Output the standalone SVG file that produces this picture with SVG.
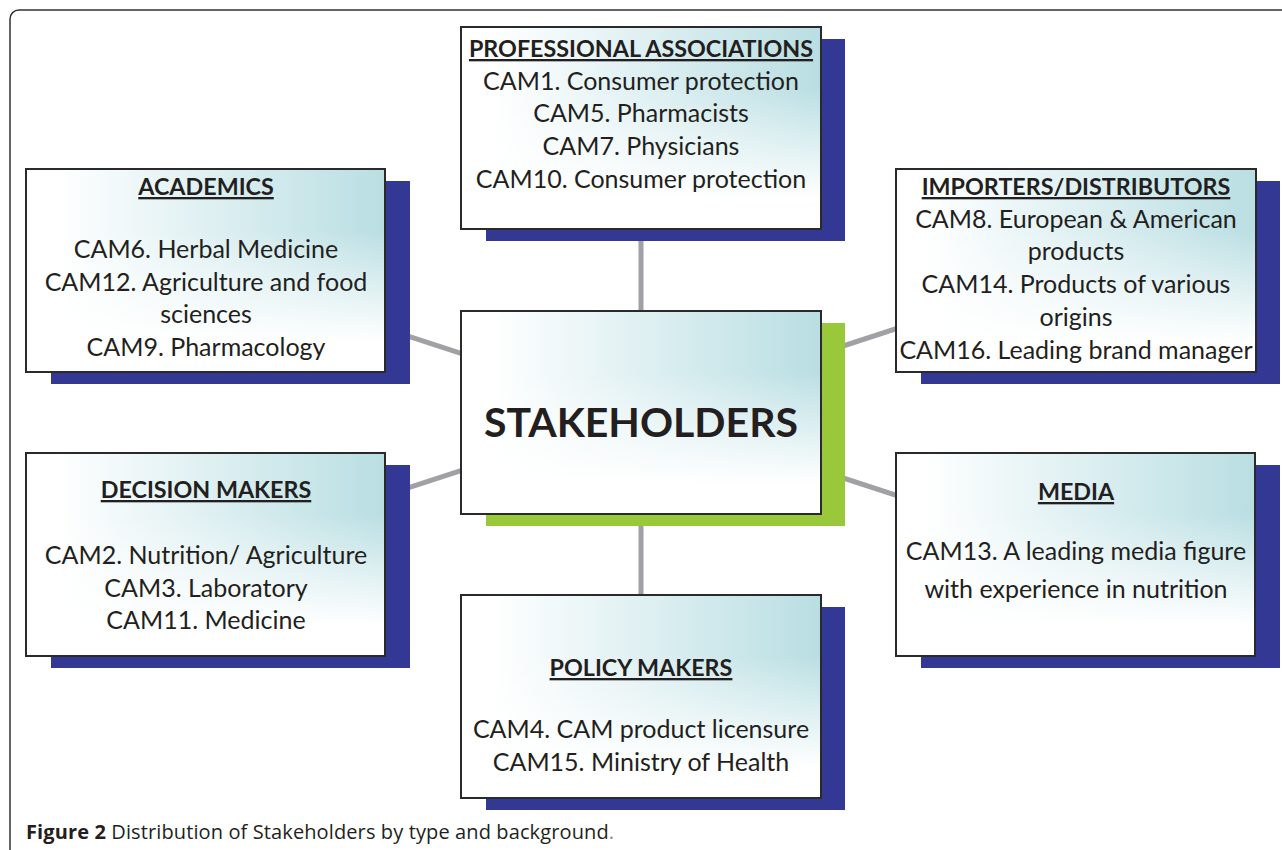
<svg xmlns="http://www.w3.org/2000/svg" width="1282" height="850" viewBox="0 0 1282 850">
<defs>
<linearGradient id="gh" x1="0" y1="0" x2="1" y2="0">
<stop offset="0.08" stop-color="#ffffff"/>
<stop offset="0.45" stop-color="#e3f2f4"/>
<stop offset="1" stop-color="#b9dee2"/>
</linearGradient>
<linearGradient id="gv" x1="0" y1="0" x2="0" y2="1">
<stop offset="0.3" stop-color="#ffffff" stop-opacity="0"/>
<stop offset="0.85" stop-color="#ffffff" stop-opacity="1"/>
</linearGradient>
<style>
.sh{fill:#333894}
.shg{fill:#99c93b}
.bg{fill:url(#gh)}
.ov{fill:url(#gv)}
.bd{fill:none;stroke:#2a2a2a;stroke-width:2}
.t{font-family:Lato,"Liberation Sans",sans-serif;font-size:25px;fill:#231f20;text-anchor:middle}
.h{font-weight:bold;text-decoration:underline;font-size:23.3px}
.big{font-family:Lato,"Liberation Sans",sans-serif;font-size:41px;font-weight:bold;fill:#231f20;text-anchor:middle}
.cn{stroke:#a0a0a5;stroke-width:5;fill:none}
.cap{font-family:"Open Sans","Liberation Sans",sans-serif;font-size:20px;fill:#231f20}
</style>
</defs>
<rect x="0" y="0" width="1282" height="850" fill="#ffffff"/>
<rect id="frame" x="10" y="10" width="1300" height="900" rx="9" fill="none" stroke="#333" stroke-width="1.5"/>
<g id="connectors">
<line class="cn" x1="641" y1="412" x2="641" y2="128"/>
<line class="cn" x1="641" y1="412" x2="641" y2="696"/>
<line class="cn" x1="641" y1="412" x2="205" y2="270"/>
<line class="cn" x1="641" y1="412" x2="205" y2="554"/>
<line class="cn" x1="641" y1="412" x2="1076" y2="270"/>
<line class="cn" x1="641" y1="412" x2="1076" y2="554"/>
</g>
<g id="professional">
<rect class="sh" x="486" y="39" width="359" height="202"/>
<rect class="bg" x="461" y="27" width="360" height="202"/>
<rect class="ov" x="461" y="27" width="360" height="202"/>
<rect class="bd" x="461" y="27" width="360" height="202"/>
<text class="t h" x="641" y="57">PROFESSIONAL ASSOCIATIONS</text>
<text class="t" x="641" y="90">CAM1. Consumer protection</text>
<text class="t" x="641" y="122">CAM5. Pharmacists</text>
<text class="t" x="641" y="155">CAM7. Physicians</text>
<text class="t" x="641" y="188">CAM10. Consumer protection</text>
</g>
<g id="academics">
<rect class="sh" x="51" y="181" width="359" height="203"/>
<rect class="bg" x="26" y="169" width="359" height="203"/>
<rect class="ov" x="26" y="169" width="359" height="203"/>
<rect class="bd" x="26" y="169" width="359" height="203"/>
<text class="t h" x="206" y="195">ACADEMICS</text>
<text class="t" x="206" y="258">CAM6.  Herbal Medicine</text>
<text class="t" x="206" y="291">CAM12. Agriculture and food</text>
<text class="t" x="206" y="323">sciences</text>
<text class="t" x="206" y="356">CAM9. Pharmacology</text>
</g>
<g id="importers">
<rect class="sh" x="921" y="181" width="359" height="203"/>
<rect class="bg" x="896" y="169" width="360" height="203"/>
<rect class="ov" x="896" y="169" width="360" height="203"/>
<rect class="bd" x="896" y="169" width="360" height="203"/>
<text class="t h" x="1076" y="195">IMPORTERS/DISTRIBUTORS</text>
<text class="t" x="1076" y="228">CAM8. European &amp; American</text>
<text class="t" x="1076" y="260">products</text>
<text class="t" x="1076" y="293">CAM14. Products of various</text>
<text class="t" x="1076" y="326">origins</text>
<text class="t" x="1076" y="359">CAM16. Leading brand manager</text>
</g>
<g id="stakeholders">
<rect class="shg" x="486" y="323" width="359" height="203"/>
<rect class="bg" x="461" y="311" width="360" height="203"/>
<rect class="ov" x="461" y="311" width="360" height="203"/>
<rect class="bd" x="461" y="311" width="360" height="203"/>
<text class="big" x="641" y="437">STAKEHOLDERS</text>
</g>
<g id="decision">
<rect class="sh" x="51" y="465" width="359" height="203"/>
<rect class="bg" x="26" y="453" width="359" height="203"/>
<rect class="ov" x="26" y="453" width="359" height="203"/>
<rect class="bd" x="26" y="453" width="359" height="203"/>
<text class="t h" x="206" y="498">DECISION MAKERS</text>
<text class="t" x="206" y="564">CAM2. Nutrition/ Agriculture</text>
<text class="t" x="206" y="597">CAM3. Laboratory</text>
<text class="t" x="206" y="629">CAM11. Medicine</text>
</g>
<g id="media">
<rect class="sh" x="921" y="465" width="359" height="203"/>
<rect class="bg" x="896" y="453" width="359" height="203"/>
<rect class="ov" x="896" y="453" width="359" height="203"/>
<rect class="bd" x="896" y="453" width="359" height="203"/>
<text class="t h" x="1076" y="500">MEDIA</text>
<text class="t" x="1076" y="560">CAM13. A leading media figure</text>
<text class="t" x="1076" y="598">with experience in nutrition</text>
</g>
<g id="policy">
<rect class="sh" x="486" y="607" width="359" height="203"/>
<rect class="bg" x="461" y="595" width="360" height="203"/>
<rect class="ov" x="461" y="595" width="360" height="203"/>
<rect class="bd" x="461" y="595" width="360" height="203"/>
<text class="t h" x="641" y="676">POLICY MAKERS</text>
<text class="t" x="641" y="738">CAM4. CAM product licensure</text>
<text class="t" x="641" y="771">CAM15. Ministry of Health</text>
</g>
<text class="cap" x="26" y="839" textLength="588" lengthAdjust="spacing"><tspan font-weight="bold">Figure 2</tspan> Distribution of Stakeholders by type and background<tspan fill="#888">.</tspan></text>
</svg>
